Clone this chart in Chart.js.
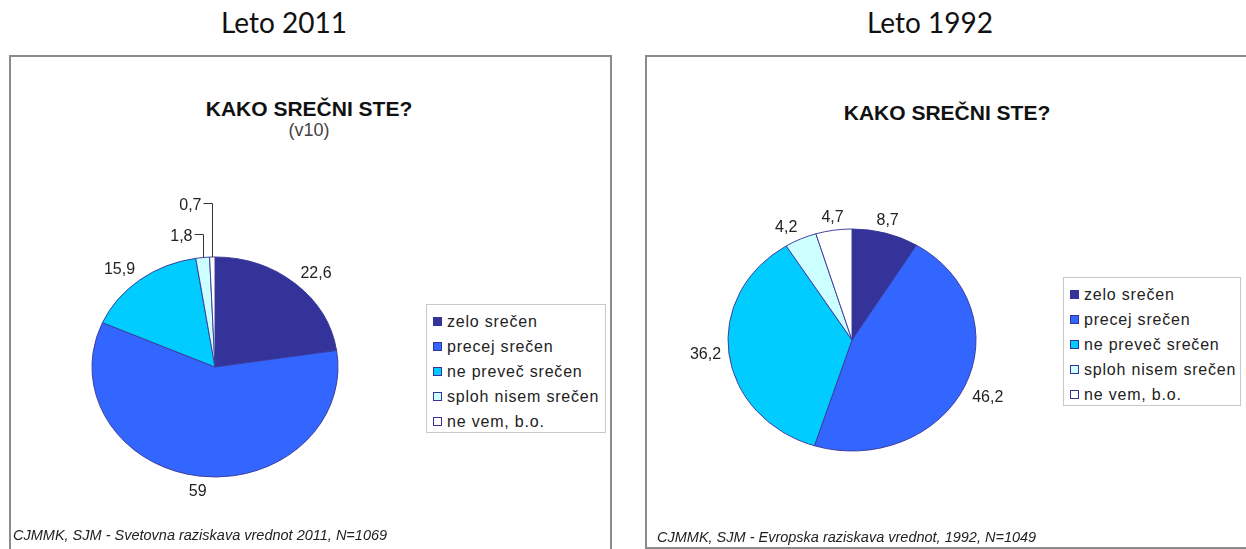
<!DOCTYPE html>
<html>
<head>
<meta charset="utf-8">
<script src="https://cdn.jsdelivr.net/npm/chart.js@4.4.0/dist/chart.umd.min.js"></script>
<style>
  body { margin:0; width:1246px; height:549px; overflow:hidden; background:#fff; position:relative;
         font-family:"Liberation Sans", Arial, sans-serif; color:#222; }
  .abs { position:absolute; white-space:nowrap; line-height:1; }
  .heading { font-family:Lato, "Open Sans", sans-serif; font-size:28px; color:#111; transform:translateX(-50%); }
  .panel { position:absolute; border:2px solid #8c8c8c; box-sizing:border-box; }
  .title { font-weight:bold; font-size:21px; color:#111; transform:translateX(-50%); }
  .sub { font-size:18px; color:#444; transform:translateX(-50%); }
  .legend { position:absolute; border:1px solid #c8c8c8; box-sizing:border-box; padding-top:4px; background:#fff; }
  .legend div { height:25px; line-height:25px; font-size:16px; letter-spacing:.8px; white-space:nowrap; }
  .legend .sw { display:inline-block; width:7px; height:7px; border:1px solid #333399; margin:0 5px 0 6px; vertical-align:middle; position:relative; top:-1px; }
  .note { font-style:italic; font-size:14.5px; color:#222; }
  canvas { position:absolute; top:0; }
</style>
</head>
<body>
<div class="abs heading" style="left:284px; top:8px;">Leto 2011</div>
<div class="abs heading" style="left:930px; top:8px;">Leto 1992</div>

<div class="panel" style="left:9px; top:55px; width:603px; height:520px;"></div>
<div class="panel" style="left:645px; top:55px; width:640px; height:494px;"></div>

<div class="abs title" style="left:309px; top:98px;">KAKO SREČNI STE?</div>
<div class="abs sub" style="left:309px; top:121px;">(v10)</div>
<div class="abs title" style="left:947px; top:102px;">KAKO SREČNI STE?</div>

<canvas id="chart2011" width="620" height="549" style="left:0px;"></canvas>
<canvas id="chart1992" width="620" height="549" style="left:626px;"></canvas>

<div class="legend" id="legend2011" style="left:426px; top:304px; width:180px; height:129px;"></div>
<div class="legend" id="legend1992" style="left:1063px; top:277px; width:178px; height:129px;"></div>

<div class="abs note" style="left:13px; top:528px;">CJMMK, SJM - Svetovna raziskava vrednot 2011, N=1069</div>
<div class="abs note" style="left:657px; top:530px;">CJMMK, SJM - Evropska raziskava vrednot, 1992, N=1049</div>

<script>
// categories and values
const categories = ['zelo srečen', 'precej srečen', 'ne preveč srečen', 'sploh nisem srečen', 'ne vem, b.o.'];
const values2011 = [22.6, 59, 15.9, 1.8, 0.7];
const values1992 = [8.7, 46.2, 36.2, 4.2, 4.7];
const sliceColors = ['#333399', '#3366FF', '#00CCFF', '#CCFFFF', '#FFFFFF'];

// squash the round pie into the flat oval of the original
const ellipse = {
  id: 'ellipse',
  beforeDatasetsDraw(chart, args, opts) {
    const arc = chart.getDatasetMeta(0).data[0];
    const ctx = chart.ctx;
    ctx.save();
    ctx.translate(arc.x, arc.y);
    ctx.scale(1, opts.ky);
    ctx.translate(-arc.x, -arc.y);
  },
  afterDatasetsDraw(chart) {
    chart.ctx.restore();
  }
};

const sliceLabels = {
  id: 'sliceLabels',
  afterDraw(chart, args, opts) {
    const ctx = chart.ctx;
    const meta = chart.getDatasetMeta(0);
    const values = chart.data.datasets[0].data;
    const ky = opts.ky;
    ctx.save();
    ctx.font = '16px "Liberation Sans", Arial, sans-serif';
    ctx.fillStyle = '#222';
    ctx.strokeStyle = '#333';
    ctx.lineWidth = 1;
    let lead = 0;
    meta.data.forEach((arc, i) => {
      const txt = String(values[i]).replace('.', ',');
      const a = (arc.startAngle + arc.endAngle) / 2;
      const R = arc.outerRadius;
      const c = Math.cos(a), s = Math.sin(a);
      if (opts.leaderBelow && values[i] < opts.leaderBelow) {
        const ex = Math.round(arc.x + R * c) + 0.5;
        const ey = arc.y + R * ky * s;
        const ty = Math.round(ey - 24 - 30 * lead) + 0.5;
        lead++;
        ctx.beginPath();
        ctx.moveTo(ex, ey);
        ctx.lineTo(ex, ty);
        ctx.lineTo(ex - 9, ty);
        ctx.stroke();
        ctx.textAlign = 'right';
        ctx.textBaseline = 'middle';
        ctx.fillText(txt, ex - 11, ty + 2);
        return;
      }
      const g = opts.gap;
      const x = arc.x + (R + g) * c;
      const y = arc.y + (R * ky + g) * s;
      ctx.textAlign = c > 0.3 ? 'left' : (c < -0.3 ? 'right' : 'center');
      ctx.textBaseline = s < -0.3 ? 'alphabetic' : (s > 0.3 ? 'top' : 'middle');
      ctx.fillText(txt, x, y);
    });
    ctx.restore();
  }
};

function makePie(id, values, padding, ky, leaderBelow) {
  return new Chart(document.getElementById(id), {
    type: 'pie',
    data: {
      labels: categories,
      datasets: [{
        data: values,
        backgroundColor: sliceColors,
        borderColor: '#3a3a9a',
        borderWidth: 1
      }]
    },
    options: {
      responsive: false,
      animation: false,
      devicePixelRatio: 1,
      layout: { padding: padding },
      plugins: {
        legend: { display: false },
        tooltip: { enabled: false },
        ellipse: { ky: ky },
        sliceLabels: { ky: ky, gap: 8, leaderBelow: leaderBelow }
      }
    },
    plugins: [ellipse, sliceLabels]
  });
}

makePie('chart2011', values2011, { left: 91.5, top: 243.5, right: 281.5, bottom: 58.5 }, 110 / 123, 3);
makePie('chart1992', values1992, { left: 101.5, top: 215.5, right: 269.5, bottom: 84.5 }, 111 / 124, 0);

function buildLegend(id) {
  const box = document.getElementById(id);
  categories.forEach((name, i) => {
    const row = document.createElement('div');
    const sw = document.createElement('span');
    sw.className = 'sw';
    sw.style.background = sliceColors[i];
    row.appendChild(sw);
    row.appendChild(document.createTextNode(name));
    box.appendChild(row);
  });
}
buildLegend('legend2011');
buildLegend('legend1992');
</script>
</body>
</html>
